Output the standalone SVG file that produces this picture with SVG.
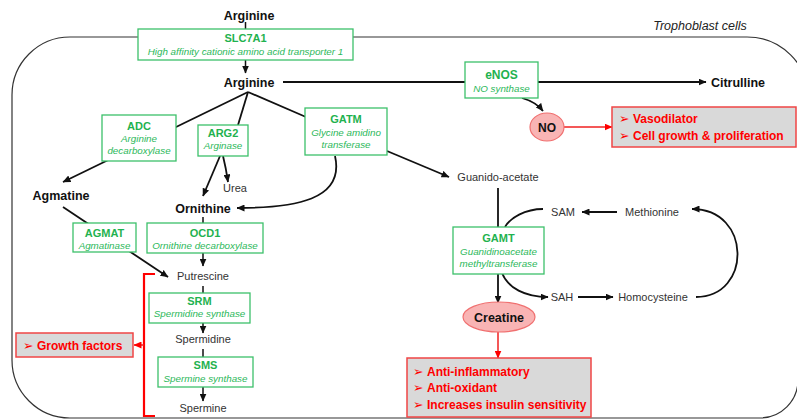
<svg xmlns="http://www.w3.org/2000/svg" width="797" height="420" viewBox="0 0 797 420">
<defs>
<style>
text{font-family:"Liberation Sans","DejaVu Sans",Arial,sans-serif}
.m{font-weight:bold;font-size:12.5px;fill:#111;text-anchor:middle}
.r{font-size:11px;fill:#333;text-anchor:middle}
.gb{font-weight:bold;font-size:11px;fill:#1fb24f;text-anchor:middle}
.gi{font-style:italic;font-size:9.8px;fill:#2bb85a;text-anchor:middle}
.box{fill:#fff;stroke:#3cc06a;stroke-width:1.3}
.rbox{fill:#d9d9d9;stroke:#f04545;stroke-width:1.5}
.rt{font-weight:bold;font-size:12px;fill:#f00}
.ar{font-family:"DejaVu Sans",sans-serif;font-weight:normal;font-size:12.5px}
.ln{fill:none;stroke:#111;stroke-width:1.8}
.lt{fill:none;stroke:#111;stroke-width:1.5}
.rl{fill:none;stroke:#f02020;stroke-width:1.5}
.rb{fill:none;stroke:#f00;stroke-width:2.2}
</style>
<marker id="a" markerUnits="userSpaceOnUse" markerWidth="8" markerHeight="7" refX="7.5" refY="3.5" orient="auto"><path d="M0,0 L8,3.5 L0,7 z" fill="#111"/></marker>
<marker id="ar" markerUnits="userSpaceOnUse" markerWidth="8" markerHeight="7" refX="7.5" refY="3.5" orient="auto"><path d="M0,0 L8,3.5 L0,7 z" fill="#f00"/></marker>
</defs>
<rect width="797" height="420" fill="#fff"/>
<path id="cell" d="M70,37 H747 A62,62 0 0 1 809,99 L798,380 A38,38 0 0 1 760,418 H70 A58,58 0 0 1 12,360 V95 A58,58 0 0 1 70,37 Z" fill="none" stroke="#333" stroke-width="1.2"/>
<text x="700" y="30" style="font-style:italic;font-size:12.5px;fill:#222;text-anchor:middle">Trophoblast cells</text>

<g id="connectors">
<line class="lt" x1="245.5" y1="22" x2="245.5" y2="29"/>
<line class="lt" x1="245.5" y1="60" x2="245.5" y2="73" marker-end="url(#a)"/>
<line class="ln" x1="283" y1="82" x2="706" y2="82" marker-end="url(#a)"/>
<path class="ln" d="M522,98 Q536,102 543,111" marker-end="url(#a)"/>
<line class="rl" x1="564" y1="127" x2="612" y2="127" marker-end="url(#ar)"/>
<line class="ln" x1="248" y1="92" x2="63" y2="182" marker-end="url(#a)"/>
<line class="ln" x1="248" y1="92" x2="238" y2="125"/>
<line class="ln" x1="248" y1="92" x2="306" y2="117"/>
<line class="ln" x1="220" y1="156" x2="203" y2="196" marker-end="url(#a)"/>
<path class="ln" d="M223,156 Q226,168 228,182" marker-end="url(#a)"/>
<line class="ln" x1="387" y1="151" x2="449" y2="177" marker-end="url(#a)"/>
<path class="ln" d="M335,156 C345,200 295,208 237,208" marker-end="url(#a)"/>
<line class="ln" x1="63" y1="207" x2="168" y2="277" marker-end="url(#a)"/>
<line class="lt" x1="203" y1="217" x2="203" y2="266" marker-end="url(#a)"/>
<line class="lt" x1="203" y1="286" x2="203" y2="293"/>
<line class="lt" x1="203" y1="323" x2="203" y2="333" marker-end="url(#a)"/>
<line class="lt" x1="203" y1="349" x2="203" y2="357"/>
<line class="lt" x1="203" y1="387" x2="203" y2="401" marker-end="url(#a)"/>
<path class="rb" d="M155,274 H144 V416 H155"/>
<line class="rl" x1="144" y1="345" x2="134" y2="345" marker-end="url(#ar)"/>
<line class="ln" x1="498" y1="188" x2="498" y2="303" marker-end="url(#a)"/>
<path class="ln" d="M543,209 C525,209 510,218 505,227"/>
<path class="ln" d="M502,273 C508,288 525,297 548,297" marker-end="url(#a)"/>
<line class="ln" x1="617" y1="212" x2="582" y2="212" marker-end="url(#a)"/>
<line class="ln" x1="578" y1="297" x2="613" y2="297" marker-end="url(#a)"/>
<path class="ln" d="M696,297 C752,297 752,209 692,209" marker-end="url(#a)"/>
<line class="rl" x1="498" y1="332" x2="498" y2="358" marker-end="url(#ar)"/>
</g>

<g id="arginine-ext"><text class="m" x="249" y="20">Arginine</text></g>
<g id="slc7a1"><rect class="box" x="138" y="29" width="215" height="31"/><text class="gb" x="245.5" y="42">SLC7A1</text><text class="gi" x="245.5" y="55">High affinity cationic amino acid transporter 1</text></g>
<g id="arginine"><text class="m" x="249" y="87">Arginine</text></g>
<g id="enos"><rect class="box" x="465" y="62" width="73" height="36"/><text class="gb" x="501.5" y="79" style="font-size:12px">eNOS</text><text class="gi" x="501.5" y="92">NO synthase</text></g>
<g id="citrulline"><text class="m" x="738" y="87">Citrulline</text></g>
<g id="no"><ellipse cx="547" cy="127" rx="17" ry="14" fill="#f9b4b4" stroke="#f07070" stroke-width="1.2"/><text class="m" x="547" y="131.5" style="font-size:12px">NO</text></g>
<g id="no-effects"><rect class="rbox" x="612" y="107" width="184" height="40"/><text class="rt" x="619" y="123"><tspan class="ar">➢</tspan><tspan x="633">Vasodilator</tspan></text><text class="rt" x="619" y="140"><tspan class="ar">➢</tspan><tspan x="633">Cell growth &amp; proliferation</tspan></text></g>
<g id="adc"><rect class="box" x="102" y="115" width="74" height="46"/><text class="gb" x="139" y="130">ADC</text><text class="gi" x="139" y="142">Arginine</text><text class="gi" x="139" y="154">decarboxylase</text></g>
<g id="arg2"><rect class="box" x="198" y="125" width="50" height="31"/><text class="gb" x="223" y="137">ARG2</text><text class="gi" x="223" y="149">Arginase</text></g>
<g id="gatm"><rect class="box" x="305" y="108" width="82" height="47"/><text class="gb" x="346" y="123">GATM</text><text class="gi" x="346" y="136">Glycine amidino</text><text class="gi" x="346" y="148">transferase</text></g>
<g id="urea"><text class="r" x="235" y="192">Urea</text></g>
<g id="agmatine"><text class="m" x="61" y="200">Agmatine</text></g>
<g id="ornithine"><text class="m" x="203" y="213">Ornithine</text></g>
<g id="guanidoacetate"><text class="r" x="498" y="181">Guanido-acetate</text></g>
<g id="agmat"><rect class="box" x="73" y="223" width="63" height="29"/><text class="gb" x="104.5" y="237">AGMAT</text><text class="gi" x="104.5" y="249">Agmatinase</text></g>
<g id="ocd1"><rect class="box" x="147" y="223" width="116" height="30"/><text class="gb" x="205" y="237">OCD1</text><text class="gi" x="205" y="249">Ornithine decarboxylase</text></g>
<g id="putrescine"><text class="r" x="203" y="280">Putrescine</text></g>
<g id="srm"><rect class="box" x="149" y="293" width="101" height="30"/><text class="gb" x="199.5" y="305">SRM</text><text class="gi" x="199.5" y="317">Spermidine synthase</text></g>
<g id="spermidine"><text class="r" x="203" y="343">Spermidine</text></g>
<g id="sms"><rect class="box" x="158" y="357" width="95" height="30"/><text class="gb" x="205.5" y="369">SMS</text><text class="gi" x="205.5" y="382">Spermine synthase</text></g>
<g id="spermine"><text class="r" x="203" y="412">Spermine</text></g>
<g id="growth"><rect class="rbox" x="16" y="333" width="117" height="24"/><text class="rt" x="23" y="350"><tspan class="ar">➢</tspan><tspan x="37">Growth factors</tspan></text></g>
<g id="gamt"><rect class="box" x="453" y="227" width="91" height="47"/><text class="gb" x="498.5" y="242">GAMT</text><text class="gi" x="498.5" y="255">Guanidinoacetate</text><text class="gi" x="498.5" y="267">methyltransferase</text></g>
<g id="sam"><text class="r" x="563" y="216">SAM</text></g>
<g id="methionine"><text class="r" x="652" y="216">Methionine</text></g>
<g id="sah"><text class="r" x="562" y="301">SAH</text></g>
<g id="homocysteine"><text class="r" x="653" y="301">Homocysteine</text></g>
<g id="creatine"><ellipse cx="499" cy="317" rx="36" ry="15" fill="#f9b4b4" stroke="#f07070" stroke-width="1.2"/><text class="m" x="499" y="321.5">Creatine</text></g>
<g id="creatine-effects"><rect class="rbox" x="407" y="358" width="184" height="59"/><text class="rt" x="413" y="376"><tspan class="ar">➢</tspan><tspan x="427">Anti-inflammatory</tspan></text><text class="rt" x="413" y="392"><tspan class="ar">➢</tspan><tspan x="427">Anti-oxidant</tspan></text><text class="rt" x="413" y="409"><tspan class="ar">➢</tspan><tspan x="427">Increases insulin sensitivity</tspan></text></g>
</svg>
